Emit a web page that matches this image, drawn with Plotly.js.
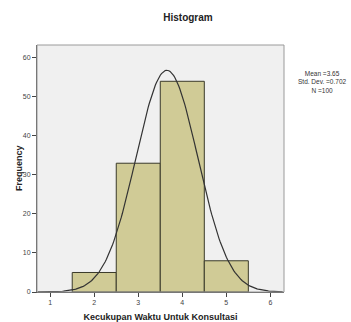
<!DOCTYPE html>
<html>
<head>
<meta charset="utf-8">
<script src="https://cdn.plot.ly/plotly-3.0.1.min.js"></script>
<style>html,body{margin:0;padding:0;background:#fff;}#chart{width:351px;height:322px;}</style>
</head>
<body>
<div id="chart"></div>
<script>
// Data
var binCenters = [2, 3, 4, 5];
var frequencies = [5, 33, 54, 8];
var xTicks = [1, 2, 3, 4, 5, 6];
var yTicks = [0, 10, 20, 30, 40, 50, 60];
var meanVal = 3.65;
var sdVal = 0.702;
var nVal = 100;

// Normal curve from the stated mean, sd and N (bin width 1)
var curveX = [], curveY = [];
for (var i = 0; i <= 200; i++) {
  var xv = 0.72 + i * (6.28 - 0.72) / 200;
  curveX.push(xv);
  curveY.push(nVal * 1 / (sdVal * Math.sqrt(2 * Math.PI)) * Math.exp(-0.5 * Math.pow((xv - meanVal) / sdVal, 2)));
}

var traces = [
  {type: 'bar', x: binCenters, y: frequencies, width: 1,
   marker: {color: '#d0cb96', line: {color: '#3a3a2a', width: 1}}, hoverinfo: 'none'},
  {type: 'scatter', mode: 'lines', x: curveX, y: curveY,
   line: {color: '#333333', width: 1.2}, hoverinfo: 'none'}
];

var layout = {
  width: 351, height: 322,
  margin: {l: 37, r: 67, t: 45, b: 30},
  paper_bgcolor: '#ffffff',
  plot_bgcolor: '#f0f0f0',
  showlegend: false,
  bargap: 0,
  font: {family: 'Liberation Sans, Arial, sans-serif', color: '#333'},
  title: {text: '<b>Histogram</b>', font: {size: 10, color: '#222'}, x: 188/351, xanchor: 'center', y: 1 - 17/322, yanchor: 'middle'},
  xaxis: {
    range: [0.7, 6.31], tickvals: xTicks, ticktext: xTicks.map(String),
    ticks: 'outside', ticklen: 4, tickcolor: '#444', tickwidth: 1,
    tickfont: {size: 7, color: '#444'},
    showgrid: false, zeroline: false, showline: true, linecolor: '#555', linewidth: 1, mirror: false,
    title: {text: '<b>Kecukupan Waktu Untuk Konsultasi</b>', font: {size: 9, color: '#222'}, standoff: 8}
  },
  yaxis: {
    range: [0, 63.3], tickvals: yTicks, ticktext: yTicks.map(String),
    ticks: 'outside', ticklen: 4, tickcolor: '#444', tickwidth: 1,
    tickfont: {size: 7, color: '#444'},
    showgrid: false, zeroline: false, showline: true, linecolor: '#555', linewidth: 1
  },
  shapes: [
    {type: 'rect', xref: 'paper', yref: 'paper', x0: 0, x1: 1, y0: 0, y1: 1,
     line: {color: '#9a9a9a', width: 1}, fillcolor: 'rgba(0,0,0,0)', layer: 'above'}
  ],
  annotations: [
    {xref: 'paper', yref: 'paper', x: (19 - 37) / 247, xanchor: 'center', y: 1 - (168 - 45) / 247, yanchor: 'middle',
     text: '<b>Frequency</b>', textangle: -90, showarrow: false, font: {size: 9, color: '#222'}},
    {xref: 'paper', yref: 'paper', x: (322 - 37) / 247, xanchor: 'center', y: 1 - (82 - 45) / 247, yanchor: 'middle',
     text: 'Mean =' + meanVal.toFixed(2) + '<br>Std. Dev. =' + sdVal.toFixed(3) + '<br>N =' + nVal,
     showarrow: false, font: {size: 6.5, color: '#333'}, align: 'center'}
  ]
};

Plotly.newPlot('chart', traces, layout, {displayModeBar: false, staticPlot: true});
</script>
</body>
</html>
